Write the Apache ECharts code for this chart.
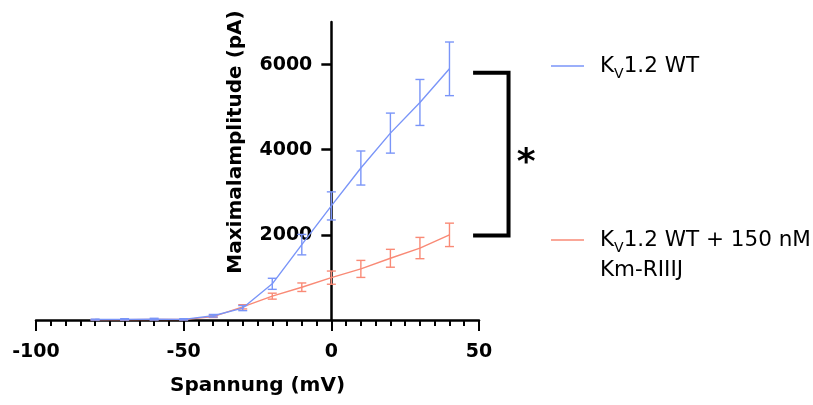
<!DOCTYPE html>
<html>
<head>
<meta charset="utf-8">
<script src="https://cdn.jsdelivr.net/npm/echarts@6/dist/echarts.min.js"></script>
<style>
html, body { margin: 0; padding: 0; background: #fff; }
#iv { width: 813px; height: 405px; }
</style>
</head>
<body>
<div id="iv"></div>
<script>
// membrane voltage steps (mV)
var voltages = [-80, -70, -60, -50, -40, -30, -20, -10, 0, 10, 20, 30, 40];
// Kv1.2 WT, mean and SEM (pA)
var wtMean = [10, 15, 20, 15, 100, 280, 850, 1770, 2680, 3570, 4390, 5110, 5900];
var wtSem = [10, 15, 20, 15, 30, 60, 130, 240, 330, 400, 470, 540, 630];
// Kv1.2 WT + 150 nM Km-RIIIJ
var toxMean = [5, 5, 10, 10, 80, 310, 560, 770, 995, 1200, 1450, 1690, 2000];
var toxSem = [5, 5, 5, 5, 20, 50, 70, 100, 155, 200, 210, 250, 275];
// significance bracket + star (data coords)
var bracketX = [48, 60];
var bracketY = [5810, 1985];
var starPos = [66, 3840];
var yLabelValues = [2000, 4000, 6000];

var blue = '#7a95f8';
var red = '#f98a76';
var font = 'DejaVu Sans';

var gridLeft = 36, gridRight = 334, width = 813;
// y axis sits at x = 0, so shift it right by the distance from -100 to 0
var yOffset = -(width - gridLeft - gridRight) * (0 - (-100)) / (50 - (-100));

function pairs(xs, ys) {
  return xs.map(function (x, i) { return [x, ys[i]]; });
}
function bars(xs, m, s) {
  return xs.map(function (x, i) { return [x, Math.max(0, m[i] - s[i]), m[i] + s[i]]; });
}
function errorBars(color) {
  return function (params, api) {
    var x = api.value(0);
    var top = api.coord([x, api.value(2)]);
    var bot = api.coord([x, api.value(1)]);
    var w = 4.5;
    var st = { stroke: color, lineWidth: 1.4 };
    return {
      type: 'group',
      children: [
        { type: 'line', shape: { x1: top[0], y1: top[1], x2: bot[0], y2: bot[1] }, style: st },
        { type: 'line', shape: { x1: top[0] - w, y1: top[1], x2: top[0] + w, y2: top[1] }, style: st },
        { type: 'line', shape: { x1: bot[0] - w, y1: bot[1], x2: bot[0] + w, y2: bot[1] }, style: st }
      ]
    };
  };
}

var rich = {
  n: { fontFamily: font, fontSize: 21.5, lineHeight: 30, color: '#000' },
  s: { fontFamily: font, fontSize: 14, lineHeight: 18, color: '#000', verticalAlign: 'bottom' }
};

var chart = echarts.init(document.getElementById('iv'));
chart.setOption({
  animation: false,
  grid: { left: gridLeft, right: gridRight, top: 22, bottom: 85, containLabel: false, outerBoundsMode: 'none' },
  xAxis: {
    type: 'value',
    min: -100,
    max: 50,
    interval: 50,
    splitLine: { show: false },
    axisLine: { onZero: false, lineStyle: { color: '#000', width: 2.5 } },
    axisTick: { length: 11, lineStyle: { color: '#000', width: 2 } },
    minorTick: { show: true, splitNumber: 10, length: 6, lineStyle: { color: '#000', width: 2 } },
    axisLabel: { fontFamily: font, fontWeight: 'bold', fontSize: 19, color: '#000', margin: 23,
      formatter: function (v) { return String(v); } },
    name: 'Spannung (mV)',
    nameLocation: 'middle',
    nameGap: 56,
    nameTextStyle: { fontFamily: font, fontWeight: 'bold', fontSize: 20, color: '#000' }
  },
  yAxis: {
    type: 'value',
    min: 0,
    max: 7000,
    interval: 2000,
    offset: yOffset,
    splitLine: { show: false },
    axisLine: { onZero: false, lineStyle: { color: '#000', width: 2.5 } },
    axisTick: { length: 10, customValues: yLabelValues, lineStyle: { color: '#000', width: 2.5 } },
    axisLabel: { fontFamily: font, fontWeight: 'bold', fontSize: 19, color: '#000', margin: 19,
      customValues: yLabelValues, formatter: function (v) { return String(v); } },
    name: 'Maximalamplitude (pA)',
    nameLocation: 'middle',
    nameGap: 86,
    nameTextStyle: { fontFamily: font, fontWeight: 'bold', fontSize: 20, color: '#000', padding: [0, 0, 0, 58] }
  },
  series: [
    {
      name: 'WT',
      type: 'line',
      data: pairs(voltages, wtMean),
      symbol: 'none',
      lineStyle: { color: blue, width: 1.4 },
      z: 3
    },
    {
      type: 'custom',
      data: bars(voltages, wtMean, wtSem),
      renderItem: errorBars(blue),
      z: 3
    },
    {
      name: 'Tox',
      type: 'line',
      data: pairs(voltages, toxMean),
      symbol: 'none',
      lineStyle: { color: red, width: 1.4 },
      z: 2
    },
    {
      type: 'custom',
      data: bars(voltages, toxMean, toxSem),
      renderItem: errorBars(red),
      z: 2
    }
  ]
});

// bracket and star are placed through the axes' own scales
var p1 = chart.convertToPixel({ gridIndex: 0 }, [bracketX[0], bracketY[0]]);
var p2 = chart.convertToPixel({ gridIndex: 0 }, [bracketX[1], bracketY[1]]);
var ps = chart.convertToPixel({ gridIndex: 0 }, starPos);
chart.setOption({
  graphic: [
    { type: 'line', shape: { x1: 551, y1: 66, x2: 584, y2: 66 }, style: { stroke: blue, lineWidth: 1.6 } },
    { type: 'text', x: 600, y: 66, style: { text: '{n|K}{s|V}{n|1.2 WT}', rich: rich, verticalAlign: 'middle' } },
    { type: 'line', shape: { x1: 551, y1: 240, x2: 584, y2: 240 }, style: { stroke: red, lineWidth: 1.6 } },
    { type: 'text', x: 600, y: 225, style: { text: '{n|K}{s|V}{n|1.2 WT + 150 nM}\n{n|Km-RIIIJ}', rich: rich, verticalAlign: 'top' } },
    { type: 'polyline', z: 10,
      shape: { points: [[p1[0], p1[1]], [p2[0], p1[1]], [p2[0], p2[1]], [p1[0], p2[1]]] },
      style: { stroke: '#000', lineWidth: 4, fill: null, lineJoin: 'miter' } },
    { type: 'text', z: 10, x: ps[0], y: ps[1] + 7,
      style: { text: '*', fontFamily: font, fontWeight: 'bold', fontSize: 36, fill: '#000', align: 'center', verticalAlign: 'middle' } }
  ]
});
</script>
</body>
</html>
